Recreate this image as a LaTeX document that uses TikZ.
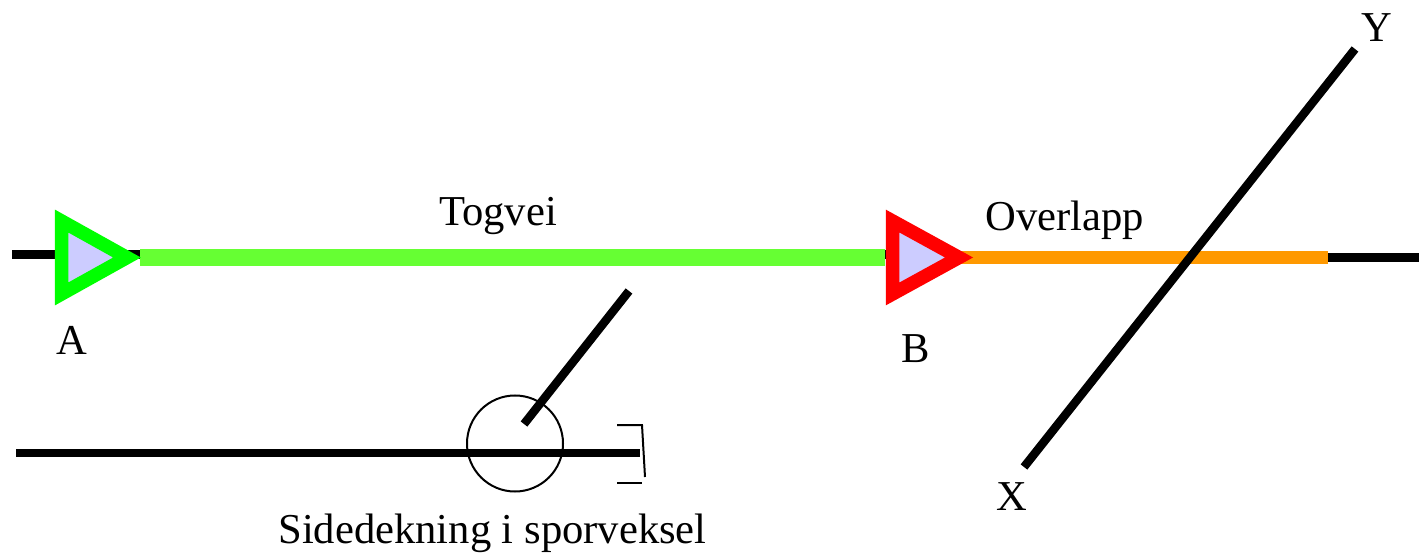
\documentclass[tikz,border=0pt]{standalone}
\usepackage{fontspec}
\setmainfont{Liberation Serif}
\definecolor{routegreen}{RGB}{102,255,51}
\definecolor{overlaporange}{RGB}{255,153,0}
\definecolor{signalfill}{RGB}{204,204,255}
\tikzset{
    track/.style={line width=8.5pt, black},
    signaltri/.style={line width=13.5pt, miter limit=10, fill=signalfill},
    label/.style={font=\fontsize{42.6}{42.6}\selectfont, inner sep=0pt}
}
\begin{document}
\begin{tikzpicture}[x=1pt, y=-1pt]
    \useasboundingbox (0,0) rectangle (1419,553);

    % Main track
    \coordinate (trackstart) at (12,254.5);
    \coordinate (signalB) at (886,254.5);
    \coordinate (overlapend) at (1328,257.5);
    \coordinate (trackend) at (1419,257.5);
    \draw[track] (trackstart) -- (signalB);
    \draw[track] (overlapend) -- (trackend);

    % Train route and overlap
    \coordinate (routestart) at (140,257.5);
    \coordinate (routeend) at (885,257.5);
    \coordinate (overlapstart) at (960,257.5);
    \draw[routegreen, line width=16.5pt] (routestart) -- (routeend);
    \draw[overlaporange, line width=13.5pt] (overlapstart) -- (overlapend);

    % Signals
    \draw[signaltri, draw=green] (61.5,221) -- (61.5,294) -- (127,257.5) -- cycle;
    \draw[signaltri, draw=red] (892.5,221) -- (892.5,294) -- (959,257.5) -- cycle;

    % Crossing track
    \coordinate (crossX) at (1024,467);
    \coordinate (crossY) at (1355,49);
    \draw[track] (crossX) -- (crossY);

    % Side track with switch
    \coordinate (sidestart) at (16,453);
    \coordinate (sideend) at (640,453);
    \coordinate (switchbase) at (524,424);
    \coordinate (switchtip) at (629,291);
    \draw[track] (sidestart) -- (sideend);
    \draw[track] (switchbase) -- (switchtip);
    \draw[line width=2pt] (515,443.5) circle (48);

    % Buffer stop
    \draw[line width=2pt] (617,425) -- (642,425) -- (645,477);
    \draw[line width=2pt] (617,483) -- (642,483);

    \node[label] (labelA) at (72,340) {A};
    \node[label] (labelB) at (916,349) {B};
    \node[label] (labelX) at (1012,497) {X};
    \node[label] (labelY) at (1377,28) {Y};
    \node[label] (togvei) at (498,216) {Togvei};
    \node[label] (overlapp) at (1065,220) {Overlapp};
    \node[label] (sidedekning) at (492.5,533) {Sidedekning i sporveksel};
\end{tikzpicture}
\end{document}
